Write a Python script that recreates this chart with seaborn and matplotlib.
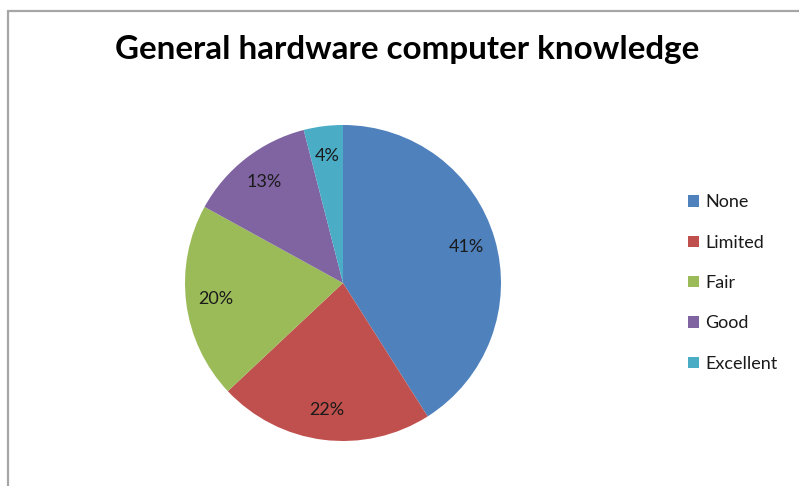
import matplotlib
matplotlib.use("Agg")
import matplotlib.pyplot as plt
from matplotlib.lines import Line2D
from matplotlib.patches import Patch
import seaborn as sns

# Survey answers and their shares (%)
levels = ["None", "Limited", "Fair", "Good", "Excellent"]
shares = [41, 22, 20, 13, 4]
colors = ["#4F81BD", "#C0504D", "#9BBB59", "#8064A2", "#4BACC6"]
title = "General hardware computer knowledge"

sns.set_theme(style="white")
plt.rcParams["font.family"] = ["Lato", "DejaVu Sans"]
palette = sns.color_palette(colors)

W, H = 799, 486
fig = plt.figure(figsize=(W / 100, H / 100), dpi=100)

# pie area: centre (343, 283), radius 158 px
cx, cy, r = 343, 283, 158
ax = fig.add_axes([(cx - r) / W, (H - cy - r) / H, 2 * r / W, 2 * r / H])
wedges, texts, autotexts = ax.pie(
    shares,
    colors=palette,
    startangle=90,
    counterclock=False,
    autopct=lambda p: f"{p:.0f}%",
    pctdistance=0.81,
    wedgeprops=dict(linewidth=0),
    textprops=dict(fontsize=13, color="#1a1a1a"),
)
ax.set_xlim(-1, 1)
ax.set_ylim(-1, 1)
ax.set_aspect("equal")
ax.axis("off")

fig.text(0.51, 1 - 50 / H, title, ha="center", va="center",
         fontsize=23.9, fontweight="bold", color="#000000")

handles = [Patch(facecolor=c, edgecolor="none") for c in palette]
leg = fig.legend(handles, levels, loc="upper left",
                 bbox_to_anchor=(672 / W, 1 - 178 / H),
                 frameon=False, fontsize=13, handlelength=0.6,
                 handleheight=0.6, handletextpad=0.35, labelspacing=1.35)
for t in leg.get_texts():
    t.set_color("#1a1a1a")

# chart frame (top and left edges)
fig.add_artist(Line2D([8 / W, 1], [1 - 11 / H, 1 - 11 / H],
                      transform=fig.transFigure, color="#A6A6A6", linewidth=1.6))
fig.add_artist(Line2D([8 / W, 8 / W], [0, 1 - 11 / H],
                      transform=fig.transFigure, color="#A6A6A6", linewidth=1.6))

fig.savefig("out.png", dpi=100, facecolor="white")
